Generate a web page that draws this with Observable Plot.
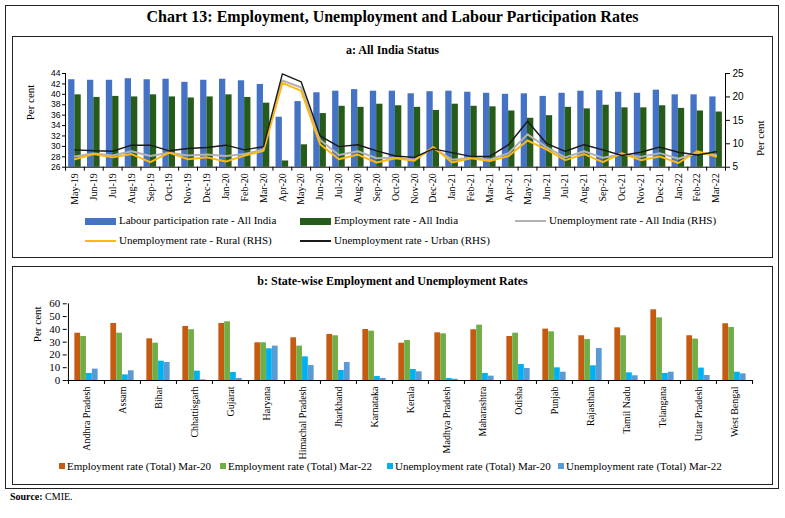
<!DOCTYPE html>
<html><head><meta charset="utf-8">
<script src="https://cdn.jsdelivr.net/npm/d3@7"></script>
<script src="https://cdn.jsdelivr.net/npm/@observablehq/plot@0.6"></script>
<style>
body{margin:0;background:#fff;font-family:"Liberation Serif","DejaVu Serif",serif;color:#000}
#page{position:relative;width:785px;height:518px;overflow:hidden}
.box{position:absolute;border:1px solid #222;box-sizing:border-box}
.abs{position:absolute;white-space:nowrap}
.title{font-size:16px;font-weight:bold;width:785px;text-align:center;left:0}
.sub{font-size:12px;font-weight:bold;width:785px;text-align:center;left:0}
.leg{font-size:11px;line-height:12px}
.sw{position:absolute}
</style></head><body>
<div id="page">
  <div class="box" style="left:5px;top:5px;width:774px;height:484px"></div>
  <div class="abs title" style="top:8px">Chart 13: Employment, Unemployment and Labour Participation Rates</div>
  <div class="box" style="left:12px;top:36px;width:761px;height:222px"></div>
  <div class="abs sub" style="top:43px">a: All India Status</div>
  <div class="box" style="left:12px;top:266px;width:761px;height:219px"></div>
  <div class="abs sub" style="top:274px">b: State-wise Employment and Unemployment Rates</div>
  <div id="chartA" class="abs" style="left:0;top:60px"></div>
  <div id="chartB" class="abs" style="left:0;top:290px"></div>
  <div id="legA"></div>
  <div id="legB"></div>
  <div class="abs" style="left:10px;top:491px;font-size:10px"><b>Source:</b> CMIE.</div>
</div>
<script>
// ---- Panel a data ----
const months = ["May-19","Jun-19","Jul-19","Aug-19","Sep-19","Oct-19","Nov-19","Dec-19","Jan-20","Feb-20","Mar-20","Apr-20","May-20","Jun-20","Jul-20","Aug-20","Sep-20","Oct-20","Nov-20","Dec-20","Jan-21","Feb-21","Mar-21","Apr-21","May-21","Jun-21","Jul-21","Aug-21","Sep-21","Oct-21","Nov-21","Dec-21","Jan-22","Feb-22","Mar-22"];
const lfpr = [42.8,42.7,42.7,43.0,42.8,42.9,42.3,42.7,42.9,42.6,41.9,35.6,38.6,40.3,40.6,40.9,40.6,40.6,40.1,40.5,40.6,40.4,40.2,40.0,40.1,39.6,40.2,40.6,40.7,40.4,40.2,40.8,39.9,39.9,39.5];
const empRate = [39.9,39.4,39.6,39.5,39.9,39.5,39.3,39.5,39.9,39.4,38.3,27.2,30.3,36.3,37.7,37.5,38.1,37.8,37.5,36.9,38.1,37.7,37.6,36.8,35.4,35.9,37.5,37.2,37.9,37.4,37.4,37.8,37.3,36.8,36.6];
const unempAll = [7.3,7.9,7.5,8.4,7.4,8.1,7.5,7.7,7.4,7.8,8.8,23.5,22.0,10.8,7.6,8.4,6.9,7.0,6.6,9.1,6.6,7.0,6.6,8.0,12.0,9.3,7.1,8.4,7.0,7.7,7.2,8.0,6.8,8.1,7.6];
const unempRural = [6.7,7.8,7.1,7.8,6.1,8.1,6.7,7.1,6.2,7.5,8.5,23.0,21.3,9.9,6.7,7.7,6.0,6.9,6.4,9.3,6.0,6.9,6.3,7.4,10.7,8.8,6.5,7.8,6.1,8.0,6.5,7.3,5.9,8.4,7.3];
const unempUrban = [8.7,8.5,8.4,9.7,9.7,8.5,9.0,9.2,9.7,8.7,9.4,24.9,23.2,11.7,9.4,9.8,8.5,7.4,7.1,8.9,8.1,7.3,7.3,9.8,14.8,10.1,8.4,9.8,8.7,7.5,8.2,9.3,8.2,7.6,8.3];
const leftTicks = [26,28,30,32,34,36,38,40,42,44];
const rightTicks = [5,10,15,20,25];

// ---- Panel b data ----
const states = ["Andhra Pradesh","Assam","Bihar","Chhattisgarh","Gujarat","Haryana","Himachal Pradesh","Jharkhand","Karnataka","Kerala","Madhya Pradesh","Maharashtra","Odisha","Punjab","Rajasthan","Tamil Nadu","Telangana","Uttar Pradesh","West Bengal"];
const emp20 = [37.0,44.6,32.6,42.3,44.6,29.5,33.4,36.0,39.9,29.2,37.3,39.7,34.4,40.2,35.0,41.2,55.3,35.0,44.4];
const emp22 = [34.4,37.0,29.2,39.7,45.9,29.5,26.9,35.0,38.6,31.3,36.5,43.3,37.0,38.1,32.1,35.0,49.0,32.4,41.5];
const unemp20 = [5.5,4.4,15.1,7.3,6.3,24.8,18.5,7.8,3.1,8.6,1.6,5.5,12.5,9.9,11.5,6.0,5.5,9.7,6.5];
const unemp22 = [8.9,7.6,14.1,0.5,1.6,26.9,11.7,14.1,1.6,6.8,1.0,3.4,9.4,6.5,25.0,3.7,6.5,3.9,5.2];
const bTicks = [0,10,20,30,40,50,60];

const serif = "Liberation Serif, DejaVu Serif, serif";
const sans = "Liberation Sans, Arimo, sans-serif";

// ---- Chart A ----
const toL = r => 26 + (r - 5) * 0.9;   // RHS value -> LHS axis units
const fromL = v => 5 + (v - 26) / 0.9;
const rowsA = months.map((m, i) => ({m, lfpr: lfpr[i], emp: empRate[i], all: unempAll[i], rural: unempRural[i], urban: unempUrban[i]}));
const mlA = 65, mrA = 60, wA = 785;
const bwA = (wA - mlA - mrA) / months.length;
const barW = 6.3;
const chartA = Plot.plot({
  width: wA, height: 150,
  marginTop: 13, marginBottom: 43.3, marginLeft: mlA, marginRight: mrA,
  x: {type: "band", domain: months, padding: 0, axis: null, label: null},
  y: {domain: [26, 44], axis: null, label: null},
  style: {background: "transparent", overflow: "visible", fontFamily: serif, color: "#000"},
  marks: [
    Plot.barY(rowsA, {x: "m", y1: 26, y2: "lfpr", fill: "#4472c4", insetLeft: bwA/2 - barW, insetRight: bwA/2}),
    Plot.barY(rowsA, {x: "m", y1: 26, y2: "emp", fill: "#265b1a", insetLeft: bwA/2, insetRight: bwA/2 - barW}),
    Plot.line(rowsA, {x: "m", y: d => toL(d.all), stroke: "#b3b3b3", strokeWidth: 2}),
    Plot.line(rowsA, {x: "m", y: d => toL(d.rural), stroke: "#fdb813", strokeWidth: 2}),
    Plot.line(rowsA, {x: "m", y: d => toL(d.urban), stroke: "#1a1a1a", strokeWidth: 1.4}),
    Plot.ruleY([26], {stroke: "#000", strokeWidth: 1}),
    Plot.ruleX([months[0]], {dx: -bwA/2, stroke: "#000"}),
    Plot.ruleX([months[months.length-1]], {dx: bwA/2, stroke: "#000"}),
    Plot.axisX({tickSize: 4, tickFormat: () => "", dx: -bwA/2, label: null}),
    Plot.axisX([months[months.length-1]], {tickSize: 4, tickFormat: () => "", dx: bwA/2, label: null}),
    Plot.axisX({tickSize: 0, tickRotate: -90, tickPadding: 6, fontSize: 10, fontFamily: serif, label: null}),
    Plot.axisY({ticks: leftTicks, anchor: "left", tickSize: 3, tickPadding: 2, fontSize: 8.5, fontFamily: sans, label: null}),
    Plot.axisY({ticks: rightTicks.map(toL), anchor: "right", tickSize: 4, tickPadding: 3, tickFormat: v => String(Math.round(fromL(v))), fontSize: 10, fontFamily: sans, label: null}),
    Plot.text(["Per cent"], {frameAnchor: "left", dx: -35, rotate: -90, fontSize: 11, fontFamily: serif}),
    Plot.text(["Per cent"], {frameAnchor: "right", dx: 35, rotate: -90, fontSize: 11, fontFamily: serif})
  ]
});
document.getElementById("chartA").appendChild(chartA);

// ---- Chart B ----
const rowsB = states.map((s, i) => ({s, e20: emp20[i], e22: emp22[i], u20: unemp20[i], u22: unemp22[i]}));
const mlB = 66.7, mrB = 32, wB = 785;
const bwB = (wB - mlB - mrB) / states.length;
const bW = 5.85;
const off = (bwB - 4 * bW) / 2;
const seriesB = [
  {key: "e20", color: "#c55a11", label: "Employment rate (Total) Mar-20"},
  {key: "e22", color: "#70ad47", label: "Employment rate (Total) Mar-22"},
  {key: "u20", color: "#00b0f0", label: "Unemployment rate (Total) Mar-20"},
  {key: "u22", color: "#5b9bd5", label: "Unemployment rate (Total) Mar-22"}
];
const chartB = Plot.plot({
  width: wB, height: 170,
  marginTop: 13.3, marginBottom: 80, marginLeft: mlB, marginRight: mrB,
  x: {type: "band", domain: states, padding: 0, axis: null, label: null},
  y: {domain: [0, 60], axis: null, label: null},
  style: {background: "transparent", overflow: "visible", fontFamily: serif, color: "#000"},
  marks: [
    ...seriesB.map((sr, k) => Plot.barY(rowsB, {x: "s", y: sr.key, fill: sr.color,
        insetLeft: off + k * bW, insetRight: bwB - off - (k + 1) * bW})),
    Plot.ruleY([0], {stroke: "#000"}),
    Plot.ruleX([states[0]], {dx: -bwB/2, stroke: "#000"}),
    Plot.axisX({tickSize: 4, tickFormat: () => "", dx: -bwB/2, label: null}),
    Plot.axisX([states[states.length-1]], {tickSize: 4, tickFormat: () => "", dx: bwB/2, label: null}),
    Plot.axisX({tickSize: 0, tickRotate: -90, tickPadding: 6, fontSize: 10, fontFamily: serif, label: null}),
    Plot.axisY({ticks: bTicks, anchor: "left", tickSize: 4, tickPadding: 3, fontSize: 11, fontFamily: serif, label: null}),
    Plot.text(["Per cent"], {frameAnchor: "left", dx: -30, rotate: -90, fontSize: 11, fontFamily: serif})
  ]
});
document.getElementById("chartB").appendChild(chartB);

// ---- Legends ----
const legA = [
  {type: "rect", color: "#4472c4", label: "Labour participation rate - All India", x: 85, y: 221},
  {type: "rect", color: "#265b1a", label: "Employment rate - All India", x: 300, y: 221},
  {type: "line", color: "#b3b3b3", label: "Unemployment rate - All India (RHS)", x: 515, y: 221},
  {type: "line", color: "#fdb813", label: "Unemployment rate - Rural (RHS)", x: 85, y: 241},
  {type: "line", color: "#1a1a1a", label: "Unemployment rate - Urban (RHS)", x: 300, y: 241}
];
const la = document.getElementById("legA");
legA.forEach(it => {
  const sw = document.createElement("div");
  sw.className = "sw";
  sw.style.left = it.x + "px";
  sw.style.width = "31px";
  if (it.type === "rect") { sw.style.top = (it.y - 3.5) + "px"; sw.style.height = "7px"; }
  else { sw.style.top = (it.y - 1) + "px"; sw.style.height = "2px"; }
  sw.style.background = it.color;
  la.appendChild(sw);
  const t = document.createElement("div");
  t.className = "abs leg";
  t.style.left = (it.x + 34) + "px";
  t.style.top = (it.y - 7) + "px";
  t.textContent = it.label;
  la.appendChild(t);
});
const lbX = [59, 220, 387, 558];
const lb = document.getElementById("legB");
seriesB.forEach((sr, k) => {
  const sw = document.createElement("div");
  sw.className = "sw";
  sw.style.left = lbX[k] + "px"; sw.style.top = "463px";
  sw.style.width = "6px"; sw.style.height = "6px"; sw.style.background = sr.color;
  lb.appendChild(sw);
  const t = document.createElement("div");
  t.className = "abs leg";
  t.style.left = (lbX[k] + 8) + "px"; t.style.top = "460px";
  t.textContent = sr.label;
  lb.appendChild(t);
});
</script>
</body></html>
